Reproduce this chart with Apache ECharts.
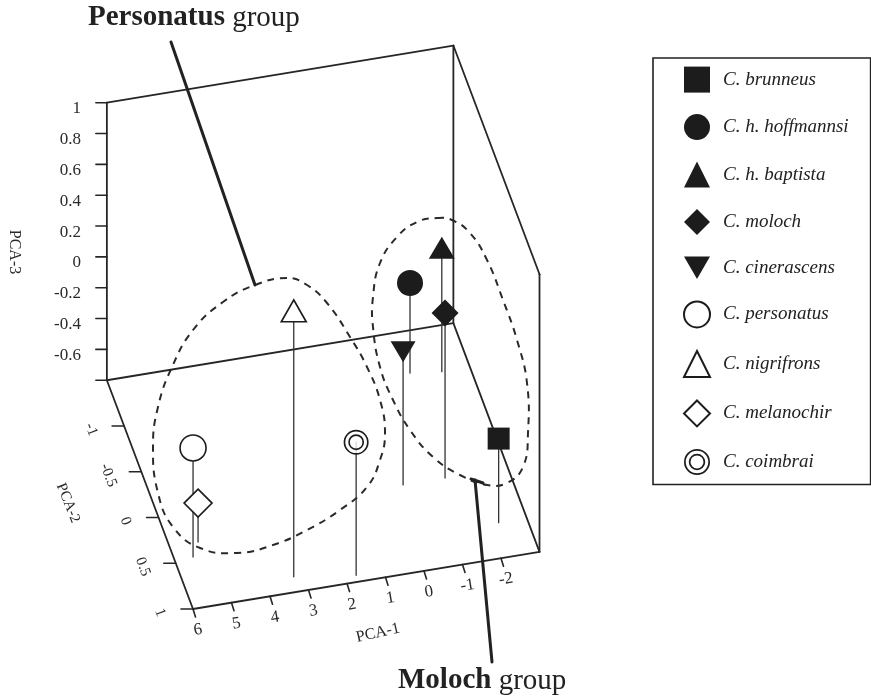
<!DOCTYPE html>
<html><head><meta charset="utf-8">
<script src="https://cdn.jsdelivr.net/npm/echarts@6/dist/echarts.min.js"></script>
<style>html,body{margin:0;padding:0;background:#fff}#c{width:871px;height:697px}</style>
</head><body><div id="c"></div>
<script>
// ---------------- data ----------------
const species = ['C. brunneus','C. h. hoffmannsi','C. h. baptista','C. moloch','C. cinerascens','C. personatus','C. nigrifrons','C. melanochir','C. coimbrai'];
const pca1 = [-2.27, -1.48, -2.27, -1.37, -0.28, 5.52, 3.24, 5.26, 1.70];
const pca2 = [0.63, -1.06, -1.02, 0.08, 0.08, 0.465, 0.84, 0.32, 0.93];
const pca3 = [-0.255, -0.216, 0.004, 0.27, 0.063, -0.093, 0.925, -0.547, 0.063];
const pca1Ticks = [6, 5, 4, 3, 2, 1, 0, -1, -2];
const pca1TickLabels = ['6','5','4','3','2','1','0','-1','-2'];
const pca2Ticks = [-1, -0.5, 0, 0.5, 1];
const pca2TickLabels = ['-1','-0.5','0','0.5','1'];
const pca3Ticks = [1, 0.8, 0.6, 0.4, 0.2, 0, -0.2, -0.4, -0.6, -0.8];
const pca3TickLabels = ['1','0.8','0.6','0.4','0.2','0','-0.2','-0.4','-0.6',''];
const pca1Range = [-3, 6];
const pca2Range = [-1.5, 1];
const pca3Range = [-0.8, 1];

// ---------------- projection (layout) ----------------
const ORIGIN = [193, 609];          // page position of (max PCA-1, max PCA-2, min PCA-3)
const U1 = [38.5, -6.35];           // per unit decrease of PCA-1
const U2 = [-34.45, -91.5];         // per unit decrease of PCA-2
const UZ = -154.2;                  // per unit increase of PCA-3
function P(a, b, c) {
  const da = pca1Range[1] - a, db = pca2Range[1] - b, dc = c - pca3Range[0];
  return [ORIGIN[0] + da * U1[0] + db * U2[0], ORIGIN[1] + da * U1[1] + db * U2[1] + dc * UZ];
}
const add = (p, d) => [p[0] + d[0], p[1] + d[1]];

const INK = '#262626';
const SERIF = '"Liberation Serif", "Times New Roman", serif';

function segSeries(list, style, z) {
  return {
    type: 'custom', coordinateSystem: 'cartesian2d', silent: true, z: z, clip: false,
    encode: { x: [0, 2], y: [1, 3] },
    data: list.map(s => [s[0][0], s[0][1], s[1][0], s[1][1]]),
    renderItem: (params, api) => {
      const p = api.coord([api.value(0), api.value(1)]);
      const q = api.coord([api.value(2), api.value(3)]);
      return { type: 'line', shape: { x1: p[0], y1: p[1], x2: q[0], y2: q[1] },
        style: Object.assign({ stroke: INK, lineWidth: 1.7, lineCap: 'round' }, style) };
    }
  };
}
function textSeries(points, labels, font, rotDeg, align) {
  return {
    type: 'custom', coordinateSystem: 'cartesian2d', silent: true, z: 6, clip: false,
    data: points,
    renderItem: (params, api) => {
      const p = api.coord([api.value(0), api.value(1)]);
      return { type: 'text', x: p[0], y: p[1], rotation: rotDeg * Math.PI / 180,
        style: { text: labels[params.dataIndex], fill: '#2a2a2a', font: font,
          align: align || 'center', verticalAlign: 'middle' } };
    }
  };
}
function outlineSeries(pts) {
  return {
    type: 'custom', coordinateSystem: 'cartesian2d', silent: true, z: 2, clip: false,
    data: [pts[0]],
    renderItem: (params, api) => ({
      type: 'polygon',
      shape: { points: pts.map(p => api.coord(p)), smooth: 0.45 },
      style: { fill: 'none', stroke: '#2a2a2a', lineWidth: 2, lineDash: [7, 6] }
    })
  };
}

const [lo1, hi1] = pca1Range, [lo2, hi2] = pca2Range, [lo3, hi3] = pca3Range;
const boxEdges = [
  [P(hi1, lo2, lo3), P(hi1, lo2, hi3)],
  [P(hi1, lo2, hi3), P(lo1, lo2, hi3)],
  [P(lo1, lo2, hi3), P(lo1, lo2, lo3)],
  [P(hi1, lo2, lo3), P(lo1, lo2, lo3)],
  [P(hi1, lo2, lo3), P(hi1, hi2, lo3)],
  [P(hi1, hi2, lo3), P(lo1, hi2, lo3)],
  [P(lo1, hi2, lo3), P(lo1, lo2, lo3)],
  [P(lo1, lo2, hi3), P(lo1, hi2, hi3)],
  [P(lo1, hi2, hi3), P(lo1, hi2, lo3)]
];
const ticks = [];
pca3Ticks.forEach(v => { const p = P(hi1, lo2, v); ticks.push([p, add(p, [-11, 0])]); });
pca2Ticks.forEach(v => { const p = P(hi1, v, lo3); ticks.push([p, add(p, [-12, 0])]); });
pca1Ticks.forEach(v => { const p = P(v, hi2, lo3); ticks.push([p, add(p, [2.5, 8])]); });

const stems = species.map((s, i) => [P(pca1[i], pca2[i], lo3), P(pca1[i], pca2[i], pca3[i])]);

// annotation outlines (page coordinates of the hand-drawn group envelopes)
const personatusOutline = [[287,278],[255,285],[223,302],[193,330],[172,367],[158,407],[153,447],[158,493],[173,527],[200,548],[237,553],[273,545],[307,530],[340,510],[367,487],[380,460],[385,433],[380,400],[367,367],[350,337],[327,303],[307,285]];
const molochOutline = [[437,218],[452,220],[470,233],[487,260],[503,300],[517,340],[527,383],[528,433],[523,467],[507,483],[487,485],[460,475],[433,457],[410,430],[393,400],[380,367],[373,327],[373,297],[380,263],[397,237],[417,222]];
const pointers = [[[171,42],[255,285]], [[475,480],[492,662]], [[471,479],[483,483]]];

const BLACK = '#1c1c1c';
const filled = { color: BLACK };
const open = { color: '#fff', borderColor: BLACK, borderWidth: 1.6 };
const RING = 'path://M0,-12A12,12,0,1,1,0,12A12,12,0,1,1,0,-12ZM0,-10.4A10.4,10.4,0,1,0,0,10.4A10.4,10.4,0,1,0,0,-10.4ZM0,-7.6A7.6,7.6,0,1,1,0,7.6A7.6,7.6,0,1,1,0,-7.6ZM0,-6A6,6,0,1,0,0,6A6,6,0,1,0,0,-6Z';
const DOWN = 'path://M0,0L10,0L5,8.6Z';
const markStyles = [
  { symbol: 'rect', size: 22, style: filled },
  { symbol: 'circle', size: 26, style: filled },
  { symbol: 'triangle', size: [26, 22], style: filled },
  { symbol: 'diamond', size: 27, style: filled },
  { symbol: DOWN, size: [25, 21], style: filled },
  { symbol: 'circle', size: 26, style: open },
  { symbol: 'triangle', size: [25, 22], style: open },
  { symbol: 'diamond', size: 28, style: open },
  { symbol: RING, size: 25, style: { color: BLACK } }
];

const series = [];
series.push(outlineSeries(personatusOutline));
series.push(outlineSeries(molochOutline));
series.push(segSeries(boxEdges, { lineWidth: 1.8 }, 3));
series.push(segSeries(ticks, { lineWidth: 1.6 }, 3));
series.push(segSeries(stems, { lineWidth: 1.3, stroke: '#333' }, 3));
series.push(segSeries(pointers, { lineWidth: 3, stroke: '#222' }, 3));
// white backing disc for the double ring marker
series.push({ type: 'scatter', name: 'bg', symbol: 'circle', symbolSize: 24, z: 4, silent: true,
  itemStyle: { color: '#fff' }, data: [P(pca1[8], pca2[8], pca3[8])] });
species.forEach((name, i) => {
  const m = markStyles[i];
  series.push({ type: 'scatter', name: name, symbol: m.symbol, symbolSize: m.size, z: 5,
    itemStyle: Object.assign({ opacity: 1 }, m.style), data: [P(pca1[i], pca2[i], pca3[i])] });
});
// tick labels
series.push(textSeries(pca3Ticks.map(v => add(P(hi1, lo2, v), [-26, 6])), pca3TickLabels, '17px ' + SERIF, 0, 'right'));
series.push(textSeries(pca2Ticks.map(v => add(P(hi1, v, lo3), [-33, 3.5])), pca2TickLabels, '15px ' + SERIF, -69.4, 'center'));
series.push(textSeries(pca1Ticks.map(v => add(P(v, hi2, lo3), [5, 21])), pca1TickLabels, '17px ' + SERIF, 9.4, 'center'));
// axis titles
series.push(textSeries([[378, 633]], ['PCA-1'], '16px ' + SERIF, 13, 'center'));
series.push(textSeries([[68, 503]], ['PCA-2'], '15px ' + SERIF, -68, 'center'));
series.push(textSeries([[14, 252]], ['PCA-3'], '16px ' + SERIF, -90, 'center'));

const chart = echarts.init(document.getElementById('c'));
chart.setOption({
  animation: false,
  backgroundColor: '#fff',
  grid: { left: 0, right: 0, top: 0, bottom: 0 },
  xAxis: { type: 'value', min: 0, max: 871, show: false },
  yAxis: { type: 'value', min: 0, max: 697, inverse: true, show: false },
  legend: {
    data: species, orient: 'vertical', left: 653, top: 58,
    itemWidth: 26, itemHeight: 26, itemGap: 21.5, padding: [8.6, 22, 9.6, 30],
    borderColor: '#222', borderWidth: 1.6, selectedMode: false,
    textStyle: { fontFamily: SERIF, fontStyle: 'italic', fontSize: 19, color: '#222', padding: [0, 0, 0, 8] }
  },
  graphic: [
    { type: 'text', x: 88, y: 18, style: { text: '{b|Personatus} group', font: '29px ' + SERIF, fill: '#222', verticalAlign: 'middle',
      rich: { b: { fontWeight: 'bold', fontSize: 29, fontFamily: SERIF, fill: '#222' } } } },
    { type: 'text', x: 398, y: 681, style: { text: '{b|Moloch} group', font: '29px ' + SERIF, fill: '#222', verticalAlign: 'middle',
      rich: { b: { fontWeight: 'bold', fontSize: 29, fontFamily: SERIF, fill: '#222' } } } }
  ],
  series: series
});
</script>
</body></html>
